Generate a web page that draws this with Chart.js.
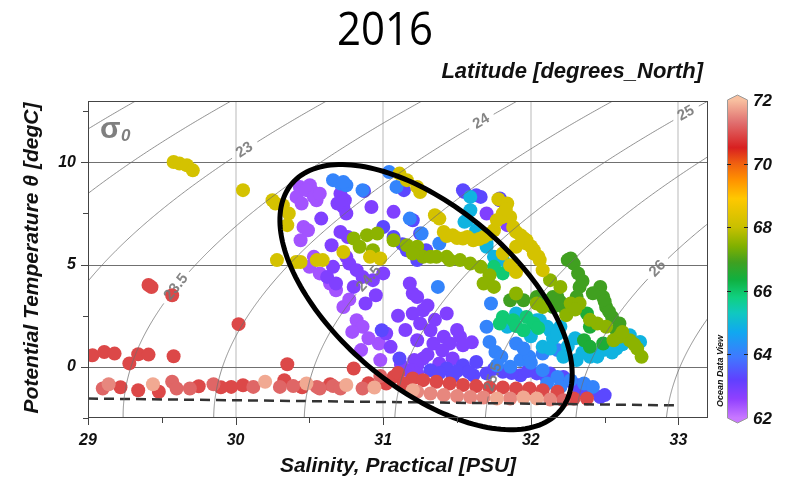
<!DOCTYPE html>
<html>
<head>
<meta charset="utf-8">
<script src="https://cdn.jsdelivr.net/npm/chart.js@4.4.0/dist/chart.umd.min.js"></script>
<style>
html, body { margin: 0; padding: 0; background: #fff; }
#wrap { width: 786px; height: 480px; }
</style>
</head>
<body>
<div id="wrap"><canvas id="tsChart" width="786" height="480"></canvas></div>
<script>
// axis ticks
const xTicks = [29, 30, 31, 32, 33];
const yTicks = [0, 5, 10];
const xMinor = [29.5, 30.5, 31.5, 32.5];
const yMinor = [-2.5, 2.5, 7.5, 12.5];

// sigma-0 contour levels and where their labels sit (temperature)
const sigmaLevels = [21.5, 22, 22.5, 23, 23.5, 24, 24.5, 25, 25.5, 26, 26.5, 27];
const sigmaLabelVal = [23, 23.5, 24, 24.5, 25, 25.5, 26];
const sigmaLabelT = [10.6, 3.9, 12.0, 4.3, 12.4, -0.5, 4.8];

// colour bar (latitude)
const cbarTicks = [62, 64, 66, 68, 70, 72];
const cbarLat = [62, 62.6, 63.2, 63.9, 64.7, 65.3, 65.8, 66.35, 66.9, 67.4, 68, 68.9, 69.5, 70, 70.5, 71.3, 72];
const cbarColor = ['#c878ff', '#9040ff', '#6040ff', '#4078ff', '#10a8f0', '#10c8c0', '#10d080', '#10b040',
  '#40a020', '#80b000', '#c8c000', '#ffc800', '#ff9000', '#f06010', '#d82020', '#e07070', '#f8c0a0'];

// freezing line
const freezeS = [29, 32.97];
const freezeT = [-1.55, -1.88];

// highlight ellipse: centre, end of major axis, end of minor axis (S, T)
const ellipseCenter = [31.29, 3.41];
const ellipseMajor = [32.20, -2.13];
const ellipseMinor = [30.90, 0.04];

// stations, grouped by latitude colour
const lightPurpleLat = 62.4;
const lightPurpleS = [30.435, 30.413, 30.503, 30.525, 30.548, 30.447, 30.46, 30.44, 30.49, 30.50, 30.57, 30.64,
  30.68, 30.73, 30.82, 30.86, 30.79, 30.85, 30.97, 30.98, 30.48, 30.53, 30.57, 30.53, 30.77, 30.90];
const lightPurpleT = [8.80, 8.31, 8.88, 8.55, 8.15, 7.99, 6.84, 6.19, 6.68, 4.89, 4.57, 4.08,
  3.75, 2.93, 2.28, 1.96, 1.71, 0.82, 1.14, 0.33, 8.64, 8.31, 8.47, 5.38, 3.30, 1.40];

const violetLat = 62.8;
const violetS = [30.71, 30.74, 30.73, 30.75, 30.69, 30.92, 31.07, 30.58, 30.71, 30.65, 30.76,
  30.66, 30.77, 30.82, 30.86, 30.93, 31.00, 30.62, 30.68, 30.80, 30.88, 31.05, 31.16, 31.02,
  31.20, 31.20, 31.18, 31.23, 31.21, 30.75, 31.23, 31.27, 31.25, 31.32, 31.34, 31.43, 31.41,
  31.45, 31.52, 31.54, 31.47, 31.38, 31.27, 31.23, 31.20, 31.23, 31.70, 31.84,
  31.30, 31.35, 31.50, 31.60, 31.40, 31.15, 31.10, 30.95, 31.12, 31.30];
const violetT = [8.47, 8.15, 7.82, 7.50, 7.99, 7.82, 7.58, 7.25, 6.60, 5.95, 6.35,
  4.89, 5.05, 4.73, 4.40, 4.24, 4.57, 4.40, 4.08, 3.91, 3.10, 0.98, -0.16, 1.63,
  3.59, 2.61, 4.08, 1.30, 0.33, 5.38, 3.42, 2.77, 2.12, 1.79, 1.14, 2.61, 1.47,
  1.14, 1.47, 1.06, 0.41, 0.17, 0.41, 0.08, -0.16, -0.32, 7.50, 6.93,
  3.00, 2.30, 1.80, 1.20, 0.80, 1.80, 2.50, 3.50, 0.10, 0.60];

const blueVioletLat = 63.3;
const blueVioletS = [30.87, 31.13, 31.16, 31.23, 30.99, 31.11, 31.14, 31.20, 31.25, 31.29, 31.00, 31.07,
  31.32, 31.43, 31.54, 31.63, 31.70, 31.81, 31.93, 32.04, 32.13, 32.22, 31.61, 31.47,
  32.47, 32.50, 32.33, 31.55, 31.63, 31.79, 31.54, 31.66, 31.79,
  31.38, 31.50, 31.58, 31.75, 31.87, 31.98, 32.10, 32.27, 32.32, 32.40];
const blueVioletT = [8.60, 6.00, 5.70, 5.22, 1.79, 0.41, 8.64, 7.17, 6.52, 5.70, 6.84, 6.35,
  -0.16, -0.08, 0.08, 0.24, -0.32, -0.24, -0.41, -0.32, -0.32, -0.49, -0.41, -0.49,
  -1.47, -1.38, -1.14, 8.55, 8.39, 8.23, 8.64, 8.31, 8.15,
  -0.30, -0.20, -0.25, -0.10, -0.30, -0.20, -0.45, -0.70, -0.90, -1.20];

const blueLat = 64.1;
const blueS = [30.66, 30.71, 30.75, 30.73, 30.86, 31.04, 31.09, 31.18, 31.26, 31.38, 31.37,
  31.73, 31.70, 31.72, 31.76, 31.90, 31.86, 31.77, 31.93, 31.99, 32.08, 32.18,
  32.08, 32.18, 32.27, 32.36, 32.42, 32.11, 32.20, 31.80, 31.95, 32.00];
const blueT = [9.13, 8.96, 8.88, 9.04, 8.64, 9.53, 8.80, 7.25, 6.52, 6.03, 3.91,
  3.10, 1.96, 1.22, 0.73, 1.14, 0.00, 0.08, 0.33, 0.49, 0.65, 0.82,
  -0.16, -0.49, -0.65, -0.81, -0.98, -0.81, -0.98, 0.50, 0.90, 0.20];

const cyanLat = 64.9;
const cyanS = [31.84, 31.90, 32.04, 32.13, 32.08, 32.22, 31.59, 31.59, 31.55, 31.63, 31.70, 31.75, 31.81,
  31.57, 31.63, 31.70, 32.11, 32.15, 32.13, 32.31, 32.40, 32.49, 32.58, 32.67, 32.74, 32.06, 32.20,
  32.25, 32.30, 32.35, 32.45, 32.55, 32.62, 32.18, 32.00];
const cyanT = [1.96, 2.61, 2.28, 1.79, 0.98, 0.49, 8.31, 7.66, 7.09, 6.60, 6.03, 5.38, 5.22,
  7.17, 6.68, 5.87, 1.96, 1.39, 0.90, 0.33, 0.49, 0.82, 0.90, 1.55, 1.22, 2.28, 1.96,
  1.00, 1.40, 0.70, 0.50, 0.70, 1.10, 1.60, 1.50];

const tealLat = 65.9;
const tealS = [31.81, 31.88, 31.97, 32.02, 31.79, 31.95, 31.75, 31.81, 31.90, 32.05];
const tealT = [2.44, 2.28, 2.44, 2.12, 2.12, 1.79, 4.89, 4.57, 2.00, 1.90];

const darkGreenLat = 66.5;
const darkGreenS = [32.38, 32.40, 32.36, 32.40, 32.49];
const darkGreenT = [2.61, 1.96, 1.30, 0.98, 1.14];

const greenLat = 66.9;
const greenS = [31.86, 31.95, 32.04, 32.15, 32.13, 32.22, 32.25, 32.27, 32.29, 32.32, 32.33, 32.31,
  32.18, 32.15, 32.20, 32.47, 32.49, 32.51, 32.55, 32.60, 32.58, 32.35, 32.42, 32.50, 32.53];
const greenT = [3.26, 3.26, 3.42, 3.42, 3.26, 2.93, 5.22, 5.30, 5.05, 4.57, 3.91, 3.42,
  3.42, 2.93, 3.18, 3.91, 3.42, 2.93, 2.44, 2.12, 1.79, 4.20, 3.60, 3.20, 2.70];

const limeLat = 67.5;
const limeS = [30.80, 30.89, 30.96, 30.84, 30.93, 31.07, 31.16, 31.20, 31.23, 31.27, 31.20, 31.32,
  31.36, 31.43, 31.45, 31.52, 31.59, 31.66, 31.72, 31.68, 31.75, 31.90, 32.04, 32.08, 32.13, 32.20,
  32.27, 32.33, 32.24, 32.45, 32.51, 32.56, 32.60, 32.67, 32.72, 32.75, 32.62, 32.70, 32.40, 32.30];
const limeT = [6.28, 6.44, 6.52, 5.87, 5.70, 6.19, 5.95, 5.70, 5.87, 5.38, 5.54, 5.38,
  5.38, 5.38, 5.22, 5.22, 5.05, 4.89, 4.48, 4.08, 3.91, 3.59, 3.10, 2.93, 4.24, 3.91,
  3.10, 3.10, 2.53, 2.12, 1.96, 1.30, 1.47, 1.30, 0.90, 0.49, 1.70, 1.10, 2.30, 2.80];

const yellowLat = 68.2;
const yellowS = [29.58, 29.62, 29.67, 29.71, 30.05, 30.25, 30.32, 30.27, 30.36, 30.35,
  30.28, 30.41, 30.44, 30.55, 30.59, 30.73, 30.91, 30.98, 31.11, 31.16, 31.25, 31.23,
  31.35, 31.38, 31.41, 31.43, 31.47, 31.54, 31.57, 31.61, 31.68, 31.75, 31.77, 31.78, 31.81,
  31.84, 31.86, 31.88, 31.93, 31.97, 31.97, 32.02, 32.02, 32.06, 32.08, 31.90, 31.81, 31.86, 31.90,
  31.50, 31.65, 31.72, 31.80, 31.83, 31.90, 31.95, 32.00, 32.05];
const yellowT = [10.02, 9.94, 9.86, 9.61, 8.64, 8.15, 7.90, 7.99, 7.50, 6.93,
  5.22, 5.13, 5.13, 5.22, 5.22, 5.62, 5.38, 5.30, 9.45, 9.13, 8.55, 8.80,
  7.41, 7.25, 6.60, 6.40, 6.44, 6.28, 6.35, 6.19, 6.35, 6.68, 7.17, 8.20, 7.50,
  7.99, 7.33, 6.84, 6.44, 6.19, 6.03, 5.70, 5.54, 5.22, 4.73, 5.87, 5.54, 4.97, 4.64,
  6.30, 6.25, 6.50, 7.30, 7.70, 6.60, 6.30, 5.90, 5.40];

const redLat = 70.9;
const redS = [29.03, 29.11, 29.18, 29.28, 29.34, 29.41, 29.58, 29.41, 29.43, 29.57, 30.02, 30.35, 30.80,
  31.02, 31.07, 31.10, 31.20, 31.27, 31.36, 31.45, 31.54, 31.63, 31.72, 31.81, 31.90, 31.99, 32.08, 32.18,
  32.38, 29.34, 29.48, 29.97, 30.33, 30.64, 31.14, 32.29, 29.22, 29.75, 29.90, 30.05, 30.45, 30.90];
const redT = [0.57, 0.73, 0.65, 0.17, 0.62, 0.60, 0.52, 4.00, 3.90, 3.50, 2.09, 0.13, -0.08,
  -0.81, -0.49, -0.30, -0.57, -0.65, -0.73, -0.81, -0.89, -0.94, -1.01, -1.01, -1.06, -1.06, -1.14, -1.22,
  -1.55, -1.14, -1.22, -0.98, -0.65, -0.85, -0.81, -1.55, -1.00, -0.95, -1.00, -0.90, -1.00, -0.80];

const pinkLat = 71.2;
const pinkS = [29.10, 29.57, 29.60, 29.69, 30.12, 30.30, 30.39, 30.55, 30.66, 30.71, 30.86, 32.22, 29.85, 30.57, 30.98];
const pinkT = [-1.06, -0.73, -1.06, -1.06, -0.98, -0.98, -0.94, -0.98, -0.94, -1.06, -1.06, -1.63, -0.85, -1.06, -0.45];

const rosyLat = 71.5;
const rosyS = [29.14, 31.23, 31.32, 31.41, 31.50, 31.59, 31.68, 31.86, 32.13];
const rosyT = [-0.85, -1.22, -1.30, -1.38, -1.43, -1.47, -1.50, -1.55, -1.60];

const peachLat = 71.8;
const peachS = [29.44, 30.20, 30.48, 30.75, 30.94, 31.20, 31.77, 31.95, 32.04];
const peachT = [-0.85, -0.73, -0.81, -0.89, -1.01, -1.14, -1.55, -1.50, -1.55];

// bottom to top drawing order
const groups = [
  [lightPurpleLat, lightPurpleS, lightPurpleT],
  [violetLat, violetS, violetT],
  [blueVioletLat, blueVioletS, blueVioletT],
  [blueLat, blueS, blueT],
  [cyanLat, cyanS, cyanT],
  [tealLat, tealS, tealT],
  [darkGreenLat, darkGreenS, darkGreenT],
  [greenLat, greenS, greenT],
  [limeLat, limeS, limeT],
  [yellowLat, yellowS, yellowT],
  [redLat, redS, redT],
  [pinkLat, pinkS, pinkT],
  [rosyLat, rosyS, rosyT],
  [peachLat, peachS, peachT]
];

function hexRgb(h) {
  return [parseInt(h.substr(1, 2), 16), parseInt(h.substr(3, 2), 16), parseInt(h.substr(5, 2), 16)];
}
function latColor(v) {
  for (let i = 1; i < cbarLat.length; i++) {
    if (v <= cbarLat[i]) {
      const f = (v - cbarLat[i - 1]) / (cbarLat[i] - cbarLat[i - 1]);
      const a = hexRgb(cbarColor[i - 1]), b = hexRgb(cbarColor[i]);
      return 'rgb(' + a.map((c, k) => Math.round(c + (b[k] - c) * f)).join(',') + ')';
    }
  }
  return cbarColor[cbarColor.length - 1];
}

// UNESCO 1983 density at p = 0
function sigma0(S, T) {
  const rw = 999.842594 + 6.793952e-2 * T - 9.095290e-3 * T * T + 1.001685e-4 * T ** 3
    - 1.120083e-6 * T ** 4 + 6.536332e-9 * T ** 5;
  const A = 8.24493e-1 - 4.0899e-3 * T + 7.6438e-5 * T * T - 8.2467e-7 * T ** 3 + 5.3875e-9 * T ** 4;
  const B = -5.72466e-3 + 1.0227e-4 * T - 1.6546e-6 * T * T;
  return rw + A * S + B * Math.pow(S, 1.5) + 4.8314e-4 * S * S - 1000;
}
function salForSigma(sig, T) {
  let lo = 20, hi = 40;
  for (let i = 0; i < 40; i++) {
    const m = (lo + hi) / 2;
    if (sigma0(m, T) < sig) lo = m; else hi = m;
  }
  return (lo + hi) / 2;
}

const FONT = '"Liberation Sans", Arial, sans-serif';

const odvDecor = {
  id: 'odvDecor',
  beforeDatasetsDraw(chart) {
    const { ctx, chartArea: a, scales: { x, y } } = chart;
    ctx.save();
    ctx.lineWidth = 1.5;
    ctx.strokeStyle = '#d0d0d0';
    xTicks.forEach(v => {
      if (v <= x.min) return;
      const px = Math.round(x.getPixelForValue(v));
      ctx.beginPath(); ctx.moveTo(px, a.top); ctx.lineTo(px, a.bottom); ctx.stroke();
    });
    ctx.lineWidth = 1;
    ctx.strokeStyle = '#707070';
    yTicks.forEach(v => {
      const py = Math.round(y.getPixelForValue(v)) + 0.5;
      ctx.beginPath(); ctx.moveTo(a.left, py); ctx.lineTo(a.right, py); ctx.stroke();
    });
    ctx.restore();
  },
  afterDatasetsDraw(chart) {
    const { ctx, chartArea: a, scales: { x, y } } = chart;

    // density contours
    ctx.save();
    ctx.beginPath(); ctx.rect(a.left, a.top, a.right - a.left, a.bottom - a.top); ctx.clip();
    ctx.font = 'bold 15px ' + FONT;
    sigmaLevels.forEach(sig => {
      const pts = [];
      for (let t = -3; t <= 13.5; t += 0.05) {
        pts.push([x.getPixelForValue(salForSigma(sig, t)), y.getPixelForValue(t)]);
      }
      let lab = null;
      const li = sigmaLabelVal.indexOf(sig);
      if (li >= 0) {
        const tl = sigmaLabelT[li];
        const x0 = x.getPixelForValue(salForSigma(sig, tl - 0.2)), y0 = y.getPixelForValue(tl - 0.2);
        const x1 = x.getPixelForValue(salForSigma(sig, tl + 0.2)), y1 = y.getPixelForValue(tl + 0.2);
        const txt = String(sig);
        lab = {
          x: x.getPixelForValue(salForSigma(sig, tl)), y: y.getPixelForValue(tl),
          ang: Math.atan2(y1 - y0, x1 - x0), txt: txt, r: ctx.measureText(txt).width / 2 + 5
        };
      }
      ctx.strokeStyle = 'rgba(110,110,110,0.75)';
      ctx.lineWidth = 1;
      ctx.beginPath();
      let pen = false;
      pts.forEach(p => {
        if (lab && Math.hypot(p[0] - lab.x, p[1] - lab.y) < lab.r) { pen = false; return; }
        if (pen) ctx.lineTo(p[0], p[1]); else { ctx.moveTo(p[0], p[1]); pen = true; }
      });
      ctx.stroke();
      if (lab) {
        ctx.save();
        ctx.translate(lab.x, lab.y);
        ctx.rotate(lab.ang);
        ctx.fillStyle = 'rgba(120,120,120,0.9)';
        ctx.textAlign = 'center';
        ctx.textBaseline = 'middle';
        ctx.fillText(lab.txt, 0, 0);
        ctx.restore();
      }
    });

    // sigma-0 symbol
    ctx.fillStyle = '#7f7f7f';
    ctx.textAlign = 'left';
    ctx.textBaseline = 'alphabetic';
    ctx.font = 'bold 30px ' + FONT;
    ctx.fillText('σ', a.left + 12, a.top + 37);
    ctx.font = 'italic bold 17px ' + FONT;
    ctx.fillText('0', a.left + 33, a.top + 40);
    ctx.restore();

    // ellipse
    const cx = x.getPixelForValue(ellipseCenter[0]), cy = y.getPixelForValue(ellipseCenter[1]);
    const ax = x.getPixelForValue(ellipseMajor[0]) - cx, ay = y.getPixelForValue(ellipseMajor[1]) - cy;
    const bx = x.getPixelForValue(ellipseMinor[0]) - cx, by = y.getPixelForValue(ellipseMinor[1]) - cy;
    ctx.save();
    ctx.beginPath();
    for (let k = 0; k <= 180; k++) {
      const t = k / 180 * Math.PI * 2;
      const px = cx + ax * Math.cos(t) + bx * Math.sin(t);
      const py = cy + ay * Math.cos(t) + by * Math.sin(t);
      if (k === 0) ctx.moveTo(px, py); else ctx.lineTo(px, py);
    }
    ctx.closePath();
    ctx.lineWidth = 5;
    ctx.strokeStyle = '#000';
    ctx.stroke();

    // frame and tick marks
    ctx.lineWidth = 1;
    ctx.strokeStyle = '#444';
    ctx.strokeRect(a.left + 0.5, a.top + 0.5, a.right - a.left - 1, a.bottom - a.top - 1);
    xTicks.concat(xMinor).forEach(v => {
      const px = Math.round(x.getPixelForValue(v)) + 0.5;
      const len = xTicks.includes(v) ? 7 : 5;
      ctx.beginPath(); ctx.moveTo(px, a.bottom); ctx.lineTo(px, a.bottom + len); ctx.stroke();
    });
    yTicks.concat(yMinor).forEach(v => {
      const py = Math.round(y.getPixelForValue(v)) + 0.5;
      const len = yTicks.includes(v) ? 7 : 5;
      ctx.beginPath(); ctx.moveTo(a.left - len, py); ctx.lineTo(a.left, py); ctx.stroke();
    });
    ctx.restore();
  },
  afterDraw(chart) {
    const { ctx } = chart;
    ctx.save();
    // colour bar
    const bx0 = 727, bx1 = 748, by0 = 100, by1 = 418;
    const span = cbarLat[cbarLat.length - 1] - cbarLat[0];
    const cbY = v => by1 - (v - cbarLat[0]) / span * (by1 - by0);
    const grad = ctx.createLinearGradient(0, by1, 0, by0);
    cbarLat.forEach((v, i) => grad.addColorStop((v - cbarLat[0]) / span, cbarColor[i]));
    ctx.fillStyle = grad;
    ctx.fillRect(bx0, by0, bx1 - bx0, by1 - by0);
    ctx.fillStyle = cbarColor[cbarColor.length - 1];
    ctx.beginPath(); ctx.moveTo(bx0, by0); ctx.lineTo((bx0 + bx1) / 2, by0 - 5); ctx.lineTo(bx1, by0); ctx.closePath(); ctx.fill();
    ctx.fillStyle = cbarColor[0];
    ctx.beginPath(); ctx.moveTo(bx0, by1); ctx.lineTo((bx0 + bx1) / 2, by1 + 5); ctx.lineTo(bx1, by1); ctx.closePath(); ctx.fill();
    ctx.strokeStyle = '#9a9a9a';
    ctx.lineWidth = 1;
    ctx.beginPath();
    ctx.moveTo(bx0 + 0.5, by1); ctx.lineTo(bx0 + 0.5, by0); ctx.lineTo((bx0 + bx1) / 2, by0 - 5);
    ctx.lineTo(bx1 - 0.5, by0); ctx.lineTo(bx1 - 0.5, by1); ctx.lineTo((bx0 + bx1) / 2, by1 + 5); ctx.closePath();
    ctx.stroke();
    ctx.strokeStyle = '#222';
    ctx.fillStyle = '#111';
    ctx.font = 'italic bold 17px ' + FONT;
    ctx.textAlign = 'left';
    ctx.textBaseline = 'middle';
    cbarTicks.forEach(v => {
      const py = Math.round(cbY(v)) + 0.5;
      if (v > cbarTicks[0] && v < cbarTicks[cbarTicks.length - 1]) {
        ctx.beginPath(); ctx.moveTo(bx0, py); ctx.lineTo(bx0 + 4, py); ctx.moveTo(bx1 - 4, py); ctx.lineTo(bx1, py); ctx.stroke();
      }
      ctx.fillText(String(v), 753, py + 1);
    });
    ctx.save();
    ctx.translate(721, 371);
    ctx.rotate(-Math.PI / 2);
    ctx.font = 'italic bold 9px ' + FONT;
    ctx.textAlign = 'center';
    ctx.fillText('Ocean Data View', 0, 0);
    ctx.restore();

    // titles
    ctx.fillStyle = '#000';
    ctx.textBaseline = 'alphabetic';
    ctx.textAlign = 'center';
    ctx.font = '46px "Open Sans", sans-serif';
    ctx.fillText('2016', 385, 45, 96);
    ctx.fillStyle = '#111';
    ctx.textAlign = 'right';
    ctx.font = 'italic bold 22px ' + FONT;
    ctx.fillText('Latitude [degrees_North]', 703, 78);
    ctx.textAlign = 'center';
    ctx.font = 'italic bold 21px ' + FONT;
    ctx.fillText('Salinity, Practical [PSU]', 398, 472);
    ctx.save();
    ctx.translate(38, 258);
    ctx.rotate(-Math.PI / 2);
    ctx.fillText('Potential Temperature θ [degC]', 0, 0);
    ctx.restore();
    ctx.restore();
  }
};

const datasets = [{
  type: 'scatter',
  data: freezeS.map((s, i) => ({ x: s, y: freezeT[i] })),
  showLine: true,
  borderColor: '#333',
  borderWidth: 2.5,
  borderDash: [10, 6],
  pointRadius: 0,
  order: 0
}];
groups.forEach((g, i) => {
  datasets.push({
    data: g[1].map((s, k) => ({ x: s, y: g[2][k] })),
    backgroundColor: latColor(g[0]),
    borderWidth: 0,
    pointRadius: 7,
    order: groups.length - i + 1
  });
});

const tickFont = { family: FONT, size: 16, style: 'italic', weight: 'bold' };

new Chart(document.getElementById('tsChart'), {
  type: 'scatter',
  data: { datasets: datasets },
  options: {
    responsive: false,
    animation: false,
    devicePixelRatio: 1,
    layout: { padding: { top: 101, right: 78, left: 0, bottom: 0 } },
    plugins: { legend: { display: false }, tooltip: { enabled: false }, title: { display: false } },
    scales: {
      x: {
        type: 'linear', min: 29, max: 33.2,
        afterFit(s) { s.height = 62; },
        afterBuildTicks(s) { s.ticks = xTicks.map(v => ({ value: v })); },
        grid: { display: false, drawTicks: false },
        border: { display: false },
        ticks: { padding: 13, color: '#111', font: tickFont, autoSkip: false, maxRotation: 0 }
      },
      y: {
        type: 'linear', min: -2.5, max: 13,
        afterFit(s) { s.width = 88; },
        afterBuildTicks(s) { s.ticks = yTicks.map(v => ({ value: v })); },
        grid: { display: false, drawTicks: false },
        border: { display: false },
        ticks: { padding: 12, color: '#111', font: tickFont, autoSkip: false }
      }
    }
  },
  plugins: [odvDecor]
});
</script>
</body>
</html>
